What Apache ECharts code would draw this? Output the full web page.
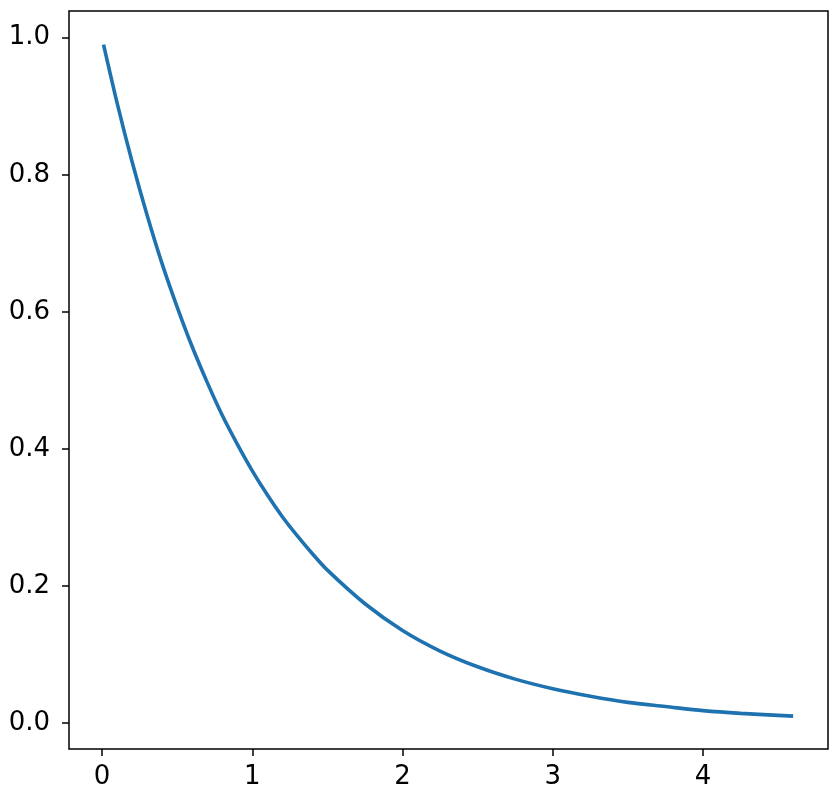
<!DOCTYPE html>
<html>
<head>
<meta charset="utf-8">
<script src="https://cdn.jsdelivr.net/npm/echarts@6/dist/echarts.min.js"></script>
<style>
  html, body { margin: 0; padding: 0; background: #fff; }
  #chart { width: 839px; height: 798px; }
</style>
</head>
<body>
<div id="chart"></div>
<script>
/* ── Data ───────────────────────────────────────────────── */
const xValues = [0.01, 0.1, 0.2, 0.3, 0.4, 0.5, 0.6, 0.7, 0.8, 0.9, 1.0, 1.1, 1.2, 1.3, 1.4, 1.5,
                 1.75, 2.0, 2.25, 2.5, 2.75, 3.0, 3.25, 3.5, 3.75, 4.0, 4.25, 4.6];
const yValues = [0.99, 0.905, 0.819, 0.741, 0.670, 0.607, 0.549, 0.497, 0.449, 0.407, 0.368, 0.333, 0.301, 0.273, 0.247, 0.223,
                 0.174, 0.135, 0.105, 0.082, 0.064, 0.050, 0.039, 0.030, 0.024, 0.018, 0.014, 0.010];
const xTicks = [0, 1, 2, 3, 4];
const yTicks = [0.0, 0.2, 0.4, 0.6, 0.8, 1.0];

(function buildChart() {
  const el = document.getElementById('chart');
  const chart = echarts.init(el, null, { renderer: 'canvas' });

  const font = { color: '#000', fontSize: 26, fontFamily: 'DejaVu Sans, sans-serif' };
  const tick = { show: true, inside: false, length: 7, lineStyle: { color: '#000', width: 1.5 } };

  chart.setOption({
    animation: false,
    backgroundColor: '#fff',
    grid: {
      left: 69, right: 11, top: 11, bottom: 49,
      show: true, borderColor: '#000', borderWidth: 1.5,
      containLabel: false
    },
    xAxis: {
      type: 'value',
      min: -0.22, max: 4.832,
      axisLine: { show: false, onZero: false },
      splitLine: { show: false },
      axisTick: Object.assign({ customValues: xTicks }, tick),
      axisLabel: Object.assign({ customValues: xTicks, margin: 15, formatter: v => String(v) }, font)
    },
    yAxis: {
      type: 'value',
      min: -0.038, max: 1.039,
      axisLine: { show: false, onZero: false },
      splitLine: { show: false },
      axisTick: Object.assign({ customValues: yTicks }, tick),
      axisLabel: Object.assign({ customValues: yTicks, margin: 19, formatter: v => v.toFixed(1) }, font)
    },
    series: [{
      type: 'line',
      data: xValues.map((x, i) => [x, yValues[i]]),
      smooth: 0.3,
      showSymbol: false,
      lineStyle: { color: '#1f72b0', width: 3.6 }
    }]
  });
})();
</script>
</body>
</html>
